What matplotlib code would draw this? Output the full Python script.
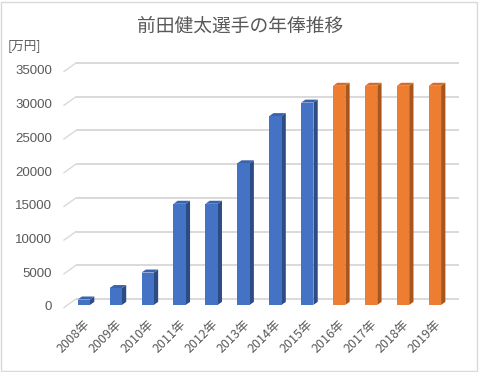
import matplotlib
matplotlib.use("Agg")
import matplotlib.pyplot as plt
from matplotlib.patches import Polygon, Rectangle
import matplotlib.transforms as mtransforms

plt.rcParams['font.family'] = ['Noto Sans CJK JP', 'DejaVu Sans']

# ---- data ----
years = ["2008年", "2009年", "2010年", "2011年", "2012年", "2013年",
         "2014年", "2015年", "2016年", "2017年", "2018年", "2019年"]
salary = [800, 2500, 4800, 15000, 15000, 21000, 28000, 30000,
          32500, 32500, 32500, 32500]
is_mlb = [False] * 8 + [True] * 4
yticks = [0, 5000, 10000, 15000, 20000, 25000, 30000, 35000]
title = "前田健太選手の年俸推移"
unit_label = "[万円]"

# ---- style ----
W, H, DPI = 480, 372, 100
text_col = "#595959"
grid_col = "#D9D9D9"
col_front = {False: "#4472C4", True: "#ED7D31"}
col_side = {False: "#2C4C86", True: "#A6561F"}
col_top = {False: "#3A63AC", True: "#D26E2B"}

fig = plt.figure(figsize=(W / DPI, H / DPI), dpi=DPI)
fig.patch.set_facecolor("white")

# front of floor in pixels
x0, x1 = 64, 447
y_top, y_bot = 71.5, 307.5
ax = fig.add_axes([x0 / W, (H - y_bot) / H, (x1 - x0) / W, (y_bot - y_top) / H])
ax.set_xlim(-0.5, len(years) - 0.5)
ax.set_ylim(0, 35000)
ax.axis("off")

px_x = (x1 - x0) / len(years)          # pixels per x unit
px_y = (y_bot - y_top) / 35000.0       # pixels per y unit

def off(dx, dy):
    return mtransforms.offset_copy(ax.transData, fig=fig, x=dx, y=dy, units="dots")

# floor depth (back wall offset) in pixels
DX, DY = 12.0, 8.5
back = off(DX, DY)
for v in yticks:
    ax.plot([-0.5, len(years) - 0.5], [v, v], color=grid_col, lw=1.4,
            transform=back, clip_on=False, zorder=1, solid_capstyle="butt")
    # diagonal from front-left to back-left
    ax.plot([-0.5, -0.5 + DX / px_x], [v, v + DY / px_y], color=grid_col, lw=1.0,
            transform=ax.transData, clip_on=False, zorder=1)
    ax.text(-0.5, v, f"{v}", transform=off(-12, 0), ha="right", va="center",
            fontsize=9.5, color=text_col, family="Liberation Sans")

# bars (pseudo 3D)
bw = 12.3 / px_x
d_front = (3.9, 2.6)       # bar front face shift into depth (px)
d_bar = (4.3, 3.0)         # bar own depth (px)
fdx, fdy = d_front[0] / px_x, d_front[1] / px_y
bdx, bdy = d_bar[0] / px_x, d_bar[1] / px_y
for i, (v, m) in enumerate(zip(salary, is_mlb)):
    xl = i - bw / 2 + fdx
    xr = i + bw / 2 + fdx
    yb = fdy
    yt = v + fdy
    side = Polygon([(xr, yb), (xr + bdx, yb + bdy), (xr + bdx, yt + bdy), (xr, yt)],
                   closed=True, facecolor=col_side[m], edgecolor="none", zorder=3, clip_on=False)
    top = Polygon([(xl, yt), (xr, yt), (xr + bdx, yt + bdy), (xl + bdx, yt + bdy)],
                  closed=True, facecolor=col_top[m], edgecolor="none", zorder=3, clip_on=False)
    ax.add_patch(side)
    ax.add_patch(top)
    ax.bar(xl, v, width=bw, bottom=yb, align="edge", color=col_front[m],
           edgecolor="none", zorder=4, clip_on=False)

# x labels
lab_tr = mtransforms.offset_copy(ax.get_xaxis_transform(), fig=fig, x=0, y=-10, units="dots")
for i, lab in enumerate(years):
    ax.text(i + 0.105, 0, lab, transform=lab_tr, rotation=45, rotation_mode="anchor",
            ha="right", va="top", fontsize=9, color=text_col)

# title & unit
fig.text(240 / W, 1 - 26 / H, title, ha="center", va="center", fontsize=13.5, color=text_col)
fig.text(8 / W, 1 - 46 / H, unit_label, ha="left", va="center", fontsize=9, color=text_col)

# chart border
fig.patches.append(Rectangle((0.5 / W, 1.5 / H), 476 / W, 369 / H, transform=fig.transFigure,
                             fill=False, edgecolor="#D9D9D9", lw=1.0))

fig.savefig("out.png", dpi=DPI, facecolor="white")
